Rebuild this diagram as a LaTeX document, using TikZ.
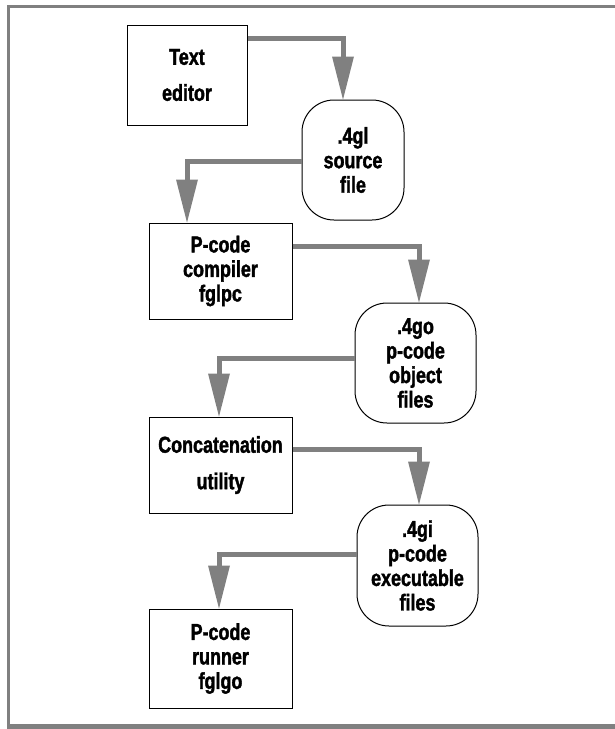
\documentclass[tikz,border=0pt]{standalone}
\usepackage{fontspec}
\setmainfont{Liberation Sans}[FakeStretch=0.78,BoldFeatures={FakeBold=1.6}]
\usepackage{tikz}
\usetikzlibrary{arrows.meta}
\definecolor{flowgray}{RGB}{128,128,128}

\begin{document}
\begin{tikzpicture}[x=1pt,y=-1pt]
        \tikzstyle{tool} = [draw,line width=1pt,fill=white,align=center,inner sep=0pt,font=\fontsize{23}{24.5}\selectfont\bfseries]
        \tikzstyle{file} = [tool,rounded corners=32pt]
        \tikzstyle{flow} = [draw=flowgray,line width=5pt,-{Triangle[width=22pt,length=43pt,line width=0pt]}]
        \tikzstyle{frame} = [draw=flowgray]
        \useasboundingbox (0,0) rectangle (615,729);
        % Page frame.
        \draw[frame,line width=3pt] (615,6.5) -- (7,6.5);
        \draw[frame,line width=3pt] (8.5,5) -- (8.5,729);
        \draw[frame,line width=5pt] (7,726.5) -- (615,726.5);
        %
        % Tools (left) and files (right).
        \node[tool,minimum width=120pt,minimum height=100pt] (editor) at (187,75) {Text\\[11.5pt]editor};
        \node[file,minimum width=102pt,minimum height=120pt] (src) at (353,160) {.4gl\\source\\file};
        \node[tool,minimum width=143pt,minimum height=96pt] (compiler) at (220.5,271) {P-code\\compiler\\fglpc};
        \node[file,minimum width=121pt,minimum height=120pt] (obj) at (415.5,363) {.4go\\p-code\\object\\files};
        \node[tool,minimum width=143pt,minimum height=96pt] (concat) at (220.5,465) {Concatenation\\[12pt]utility};
        \node[file,minimum width=121pt,minimum height=121pt] (exe) at (417.5,565.5) {.4gi\\p-code\\executable\\files};
        \node[tool,minimum width=143pt,minimum height=99pt] (runner) at (220.5,658.5) {P-code\\runner\\fglgo};
        %
        % Flow arrows.
        \draw[flow] ([yshift=-14pt]editor.north east) -| ([xshift=-10pt]src.north);
        \draw[flow] ([yshift=-1pt]src.west) -| ([xshift=-33.5pt]compiler.north);
        \draw[flow] ([yshift=-24pt]compiler.north east) -| ([xshift=3.5pt]obj.north);
        \draw[flow] ([yshift=5pt]obj.west) -| ([xshift=-1.5pt]concat.north);
        \draw[flow] ([yshift=-33pt]concat.north east) -| ([xshift=1.5pt]exe.north);
        \draw[flow] ([yshift=11.5pt]exe.west) -| ([xshift=-1.5pt]runner.north);
\end{tikzpicture}
\end{document}
